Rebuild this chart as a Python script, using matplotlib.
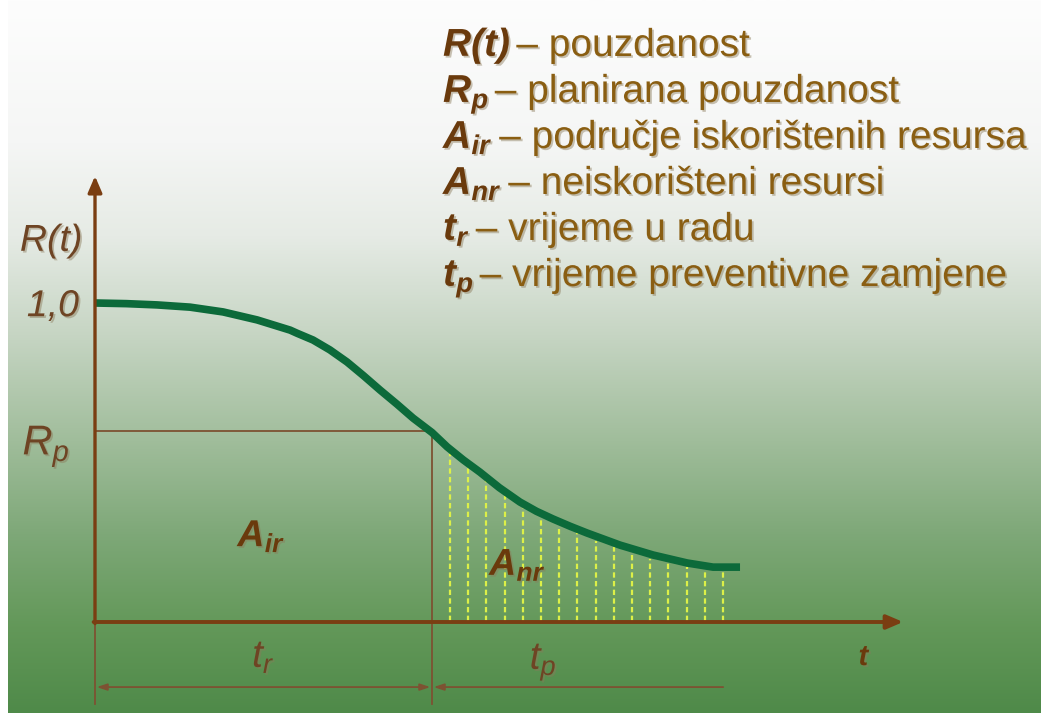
import numpy as np
import matplotlib.pyplot as plt
import matplotlib.patheffects as pe
from matplotlib.colors import LinearSegmentedColormap

#### 1. DATA
curve_t = [0, 0.93, 1.84, 2.82, 3.80, 4.81, 5.79, 6.00, 6.47, 6.97, 7.48, 7.97, 8.46, 8.96, 9.44,
           10.0, 10.45, 10.93, 11.42, 12.0, 12.61, 13.10, 13.59, 14.10, 14.60, 15.58, 16.56,
           17.57, 18.34, 19.14]
curve_R = [1.0, 0.998, 0.994, 0.987, 0.972, 0.947, 0.915, 0.905, 0.884, 0.853, 0.815, 0.772, 0.727,
           0.683, 0.639, 0.594, 0.549, 0.508, 0.470, 0.421, 0.376, 0.347, 0.323, 0.300, 0.279,
           0.241, 0.210, 0.185, 0.172, 0.172]
R_p = 0.60
t_r = 10.0
t_p_end = 18.64
t_axis_end = 23.98
R_axis_end = 1.398
hatch_t = [10.53, 11.07, 11.60, 12.17, 12.70, 13.23, 13.77, 14.30,
           14.87, 15.40, 15.93, 16.47, 17.00, 17.57, 18.10, 18.64]

legend_symbols = [r'$\mathbf{R(t)}$', r'$\mathbf{R_p}$', r'$\mathbf{A_{ir}}$',
                  r'$\mathbf{A_{nr}}$', r'$\mathbf{t_r}$', r'$\mathbf{t_p}$']
legend_texts = ['– pouzdanost', '– planirana pouzdanost', '– područje iskorištenih resursa',
                '– neiskorišteni resursi', '– vrijeme u radu', '– vrijeme preventivne zamjene']

#### 2. STYLE
plt.rcParams['font.family'] = ['Liberation Sans', 'DejaVu Sans']
plt.rcParams['mathtext.fontset'] = 'custom'
plt.rcParams['mathtext.rm'] = 'Liberation Sans'
plt.rcParams['mathtext.it'] = 'Liberation Sans:italic'
plt.rcParams['mathtext.bf'] = 'Liberation Sans:bold:italic'

brown = '#7a3e12'
thin_brown = '#7d5232'
sym_col = '#6a3a0c'
desc_col = '#8a5e12'
lbl_col = '#6e4424'
green = '#0c6a3a'
hatch_col = '#dcf048'
shadow = [pe.SimplePatchShadow(offset=(1.3, -1.3), shadow_rgbFace='#8a7a5a', alpha=0.45), pe.Normal()]

fig = plt.figure(figsize=(10.41, 7.13), dpi=100)

# background gradient
bg = fig.add_axes([8 / 1041, 0, 1 - 8 / 1041, 1], zorder=0)
cmap = LinearSegmentedColormap.from_list('bg', [
    (0.0, '#fdfdfd'), (0.2, '#f5f6f5'), (0.33, '#e6ebe5'), (0.47, '#c6d5c3'),
    (0.6, '#a5c0a0'), (0.75, '#7ea878'), (0.88, '#639859'), (1.0, '#4f8a49')])
bg.imshow(np.linspace(0, 1, 256)[:, None], aspect='auto', cmap=cmap, extent=[0, 1, 1, 0])
bg.axis('off')

ax = fig.add_axes([0, 0, 1, 1], zorder=1)
ax.patch.set_alpha(0)
ax.set_xlim(-95 / 33.7, (1041 - 95) / 33.7)
ax.set_ylim((622 - 713) / 319, 622 / 319)
ax.axis('off')

#### 3. DRAW
# hatch of unused resources
hatch_top = np.interp(hatch_t, curve_t, curve_R) - 0.014
ax.vlines(hatch_t, 0.004, hatch_top, colors=hatch_col, linestyles=(0, (2.4, 1.5)), lw=1.6, zorder=2)

# R_p guide lines
ax.plot([0, t_r], [R_p, R_p], color=thin_brown, lw=1.3, zorder=2)
ax.plot([t_r, t_r], [R_p, -0.257], color=thin_brown, lw=1.3, zorder=2)
ax.plot([0, 0], [0, -0.257], color=thin_brown, lw=1.3, zorder=2)

# reliability curve
ax.plot(curve_t, curve_R, color=green, lw=5.5, solid_capstyle='butt', solid_joinstyle='round', zorder=4)

# axes with arrows
ax.annotate('', xy=(0, R_axis_end), xytext=(0, -0.005),
            arrowprops=dict(arrowstyle='-|>,head_length=0.7,head_width=0.3', lw=2.4, color=brown,
                            shrinkA=0, shrinkB=0, mutation_scale=14), zorder=5)
ax.annotate('', xy=(t_axis_end, 0), xytext=(-0.04, 0),
            arrowprops=dict(arrowstyle='-|>,head_length=0.7,head_width=0.3', lw=2.8, color=brown,
                            shrinkA=0, shrinkB=0, mutation_scale=14), zorder=5)

# dimension arrows
ax.annotate('', xy=(t_r - 0.05, -0.204), xytext=(0.05, -0.204),
            arrowprops=dict(arrowstyle='<|-|>,head_length=0.6,head_width=0.2', lw=1.3, color=thin_brown,
                            shrinkA=0, shrinkB=0, mutation_scale=10))
ax.annotate('', xy=(t_r + 0.05, -0.204), xytext=(t_p_end, -0.204),
            arrowprops=dict(arrowstyle='-|>,head_length=0.6,head_width=0.2', lw=1.3, color=thin_brown,
                            shrinkA=0, shrinkB=0, mutation_scale=10))

# axis labels
ax.text(-1.3, 1.195, 'R(t)', style='italic', fontsize=27, color=lbl_col, ha='center', va='center',
        path_effects=shadow)
ax.text(-1.25, 0.99, '1,0', style='italic', fontsize=27, color=lbl_col, ha='center', va='center',
        path_effects=shadow)
ax.text(-1.45, 0.55, r'$R_p$', fontsize=30, color=lbl_col, ha='center', va='center', path_effects=shadow)
ax.text(22.8, -0.11, 't', style='italic', weight='bold', fontsize=21, color=sym_col, ha='center',
        va='center', path_effects=shadow)
ax.text(5.0, -0.11, r'$t_r$', fontsize=28, color=lbl_col, ha='center', va='center', path_effects=shadow)
ax.text(13.3, -0.125, r'$t_p$', fontsize=28, color=lbl_col, ha='center', va='center', path_effects=shadow)
ax.text(4.95, 0.27, r'$\mathbf{A_{ir}}$', fontsize=27, color=sym_col, ha='center', va='center',
        path_effects=shadow, zorder=6)
ax.text(12.55, 0.18, r'$\mathbf{A_{nr}}$', fontsize=27, color=sym_col, ha='center', va='center',
        path_effects=shadow, zorder=6)

# legend block
base_y = [56, 102, 148, 194, 240, 286]
for sym, desc, py in zip(legend_symbols, legend_texts, base_y):
    yb = 1 - py / 713
    s = ax.text(443 / 1041, yb, sym, transform=ax.transAxes, fontsize=28, color=sym_col,
                ha='left', va='baseline', path_effects=shadow)
    ax.annotate(desc, xy=(1, yb), xycoords=(s, ax.transAxes), xytext=(4, 0), textcoords='offset points',
                fontsize=28, color=desc_col, ha='left', va='baseline', path_effects=shadow)

fig.savefig('out.png', dpi=100)
